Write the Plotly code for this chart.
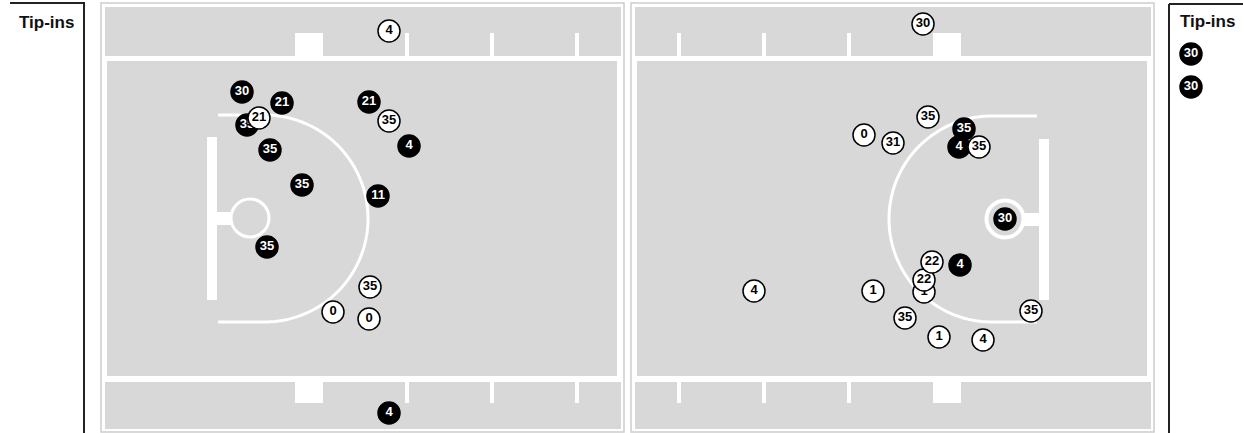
import numpy as np
import plotly.graph_objects as go

W, H = 1243, 433

# ---- shot data (chart pixel coordinates) ----
left_x = [389, 242, 282, 247, 259, 369, 389, 409, 270, 302, 378, 267, 370, 333, 369, 389]
left_y = [31, 92, 103, 125, 118, 102, 121, 146, 150, 185, 196, 247, 287, 312, 319, 413]
left_num = ["4", "30", "21", "35", "21", "21", "35", "4", "35", "35", "11", "35", "35", "0", "0", "4"]
left_made = [0, 1, 1, 1, 0, 1, 0, 1, 1, 1, 1, 1, 0, 0, 0, 1]

right_x = [923, 864, 893, 928, 964, 959, 979, 1005, 924, 924, 932, 960, 754, 873, 905, 939, 983, 1031]
right_y = [24, 135, 143, 117, 129, 147, 147, 219, 292, 280, 262, 265, 291, 291, 318, 337, 340, 311]
right_num = ["30", "0", "31", "35", "35", "4", "35", "30", "1", "22", "22", "4", "4", "1", "35", "1", "4", "35"]
right_made = [0, 0, 0, 0, 1, 1, 0, 1, 0, 0, 0, 1, 0, 0, 0, 0, 0, 0]

legend_title = "Tip-ins"
legend_nums = ["30", "30"]
legend_made = [1, 1]

# ---- styling ----
GRAY = "#d8d8d8"
BORDER = "#cdcdcd"
FONT = "Liberation Sans, Arial, sans-serif"

shapes = []


def rect(x0, y0, x1, y1, fill, line_color=None, lw=0):
    shapes.append(dict(type="rect", xref="x", yref="y", x0=x0, y0=y0, x1=x1, y1=y1,
                       fillcolor=fill, line=dict(color=line_color or fill, width=lw),
                       layer="below"))


def line(x0, y0, x1, y1, color, lw):
    shapes.append(dict(type="line", xref="x", yref="y", x0=x0, y0=y0, x1=x1, y1=y1,
                       line=dict(color=color, width=lw), layer="below"))


def path(pts, color, lw):
    d = "M " + " L ".join(f"{x:.2f},{y:.2f}" for x, y in pts)
    shapes.append(dict(type="path", xref="x", yref="y", path=d,
                       line=dict(color=color, width=lw), layer="below"))


def circle(cx, cy, r, color, lw):
    shapes.append(dict(type="circle", xref="x", yref="y", x0=cx - r, y0=cy - r,
                       x1=cx + r, y1=cy + r, line=dict(color=color, width=lw),
                       layer="below"))


def panel(ox0, ox1, basket_left):
    # outer border
    rect(ox0, 3, ox1, 432, "white", BORDER, 1.5)
    # strips and main court
    rect(ox0 + 4, 7, ox1 - 3, 56, GRAY)
    rect(ox0 + 6, 61, ox1 - 7, 376, GRAY)
    rect(ox0 + 4, 382, ox1 - 3, 429, GRAY)
    sx0, sx1 = ox0 + 4, ox1 - 3
    if basket_left:
        bx0 = sx0 + 190
        ticks = [sx0 + 302, sx0 + 387, sx0 + 472]
    else:
        bx0 = sx1 - 218
        ticks = [sx1 - 302, sx1 - 387, sx1 - 472]
    for (ya, yb) in [(33, 57), (381, 403)]:
        rect(bx0, ya, bx0 + 28, yb, "white")
        for t in ticks:
            rect(t - 2, ya, t + 2, yb, "white")


panel(101, 624, True)
panel(631, 1154, False)

# left basket area
rect(207, 137, 217, 300, "white")
rect(216, 212, 232, 225, "white")
circle(250, 218, 19, "white", 3)
t = np.linspace(-np.pi / 2, np.pi / 2, 120)
cx, cy, r = 264.5, 218.5, 103.5
pts = [(218, cy - r)] + [(cx + r * np.cos(a), cy + r * np.sin(a)) for a in t] + [(218, cy + r)]
path(pts, "white", 3)

# right basket area
rect(1039, 139, 1049, 300, "white")
rect(1023, 213, 1040, 226, "white")
circle(1005, 219, 18.5, "white", 4)
cx, cy, r = 992, 219, 103
pts = [(1037, cy - r)] + [(cx - r * np.cos(a), cy + r * np.sin(a)) for a in t] + [(1037, cy + r)]
path(pts, "white", 3)

# legend boxes
line(10, 3, 85, 3, "#222", 2)
line(84, 3, 84, 433, "#222", 2)
line(1169, 4, 1243, 4, "#222", 2)
line(1169, 4, 1169, 433, "#222", 2)

fig = go.Figure()


def add_marker(x, y, num, made):
    fig.add_trace(go.Scatter(
        x=[x], y=[y], mode="markers+text", text=[f"<b>{num}</b>"],
        textposition="middle center",
        marker=dict(size=22, color="black" if made else "white",
                    line=dict(color="black", width=1.5)),
        textfont=dict(family=FONT, size=13, color="white" if made else "black"),
        hoverinfo="skip", showlegend=False, cliponaxis=False))


for x, y, n, m in zip(left_x, left_y, left_num, left_made):
    add_marker(x, y, n, m)
for x, y, n, m in zip(right_x, right_y, right_num, right_made):
    add_marker(x, y, n, m)

legend_pos = [(1191, 54), (1191, 87)]
for (x, y), n, m in zip(legend_pos, legend_nums, legend_made):
    add_marker(x, y, n, m)

annotations = [
    dict(x=46, y=22, xref="x", yref="y", text=f"<b>{legend_title}</b>", showarrow=False,
         font=dict(family=FONT, size=17, color="#111"), xanchor="center", yanchor="middle"),
    dict(x=1207, y=21, xref="x", yref="y", text=f"<b>{legend_title}</b>", showarrow=False,
         font=dict(family=FONT, size=17, color="#111"), xanchor="center", yanchor="middle"),
]

fig.update_layout(
    width=W, height=H, margin=dict(l=0, r=0, t=0, b=0),
    paper_bgcolor="white", plot_bgcolor="white",
    xaxis=dict(range=[0, W], visible=False, fixedrange=True),
    yaxis=dict(range=[H, 0], visible=False, fixedrange=True),
    shapes=shapes, annotations=annotations, showlegend=False,
)

fig.write_html("out.html", config={"displayModeBar": False},
               post_script="document.body.style.margin='0';")
